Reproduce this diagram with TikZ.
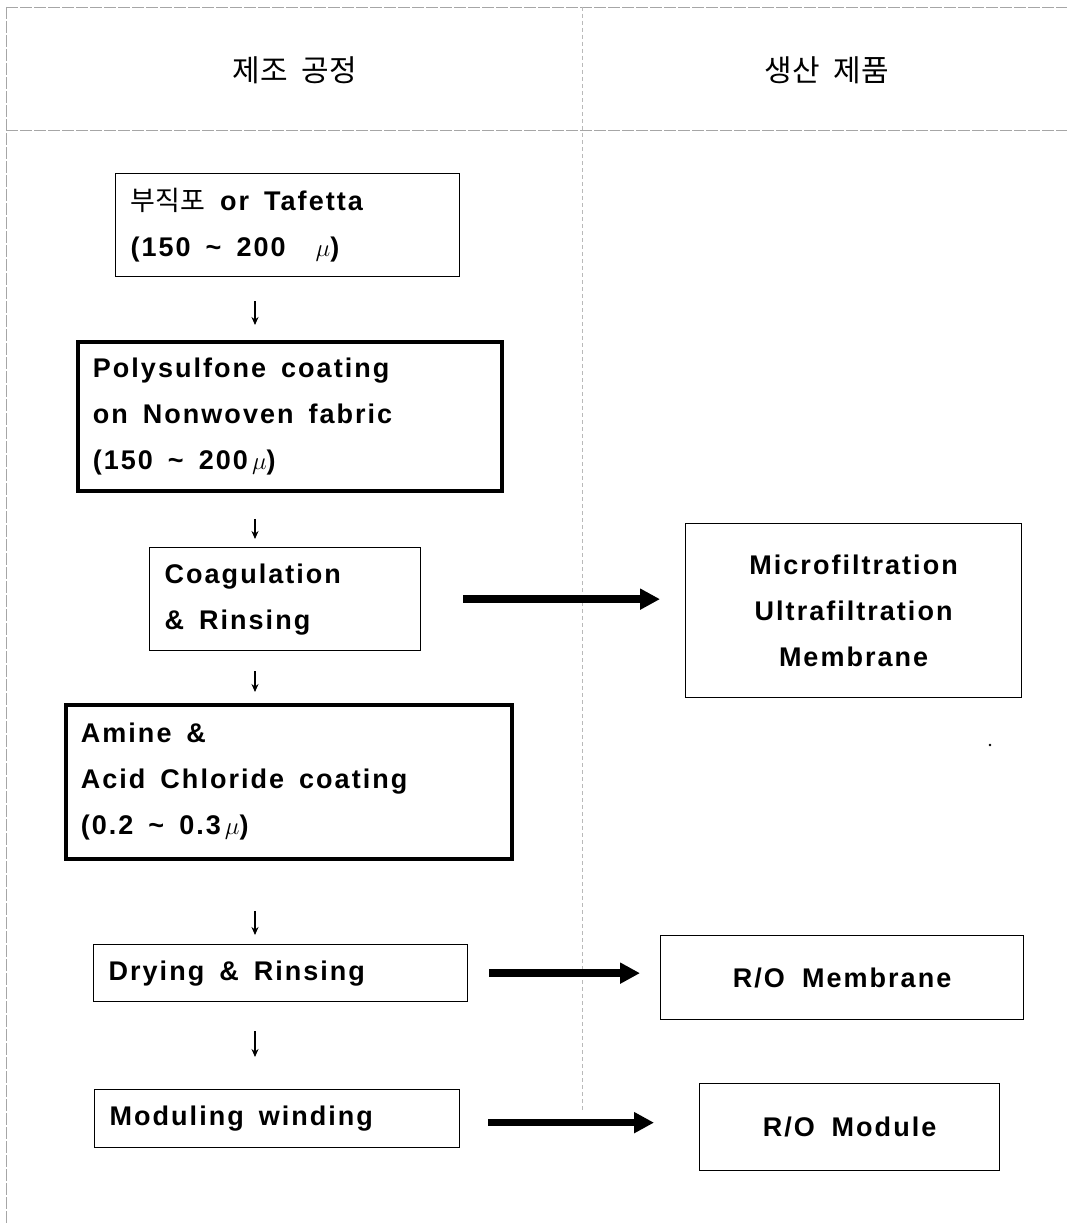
\documentclass[tikz,border=0pt]{standalone}
\usepackage{fontspec}
\setmainfont{Liberation Sans}
\newfontfamily\kr{Noto Sans CJK KR}
\newfontfamily\boxfont{Liberation Sans}[LetterSpace=7.5]
\newcommand{\widespace}{\spaceskip=15pt plus 2pt minus 2pt\relax}
\newcommand{\headspace}{\spaceskip=14pt\relax}
\usetikzlibrary{arrows.meta}
\tikzset{
  frameline/.style={draw=gray!70, line width=0.8pt, dash pattern=on 12pt off 2pt},
  divline/.style={draw=gray!55, line width=0.7pt, dash pattern=on 4pt off 3pt},
  basebox/.style={draw, anchor=north west, inner ysep=0pt, inner xsep=15pt,
    font=\boxfont\bfseries\fontsize{27}{46}\selectfont,
    execute at begin node=\widespace},
  thinbox/.style={basebox, line width=1.3pt, align=left},
  thickbox/.style={basebox, line width=3.8pt, align=left},
  prodbox/.style={basebox, line width=1.2pt, align=center},
  head/.style={font=\kr\fontsize{30}{36}\selectfont, execute at begin node=\headspace},
  downarrow/.style={draw, line width=1.1pt, -{Stealth[length=8pt,width=7pt]}},
  bigarrow/.style={draw, line width=7.5pt, -{Triangle[length=20pt,width=20pt]}},
}
\begin{document}
\begin{tikzpicture}[x=1pt,y=-1pt]
\path[use as bounding box, fill=white] (0,0) rectangle (1067,1223);

% frame
\coordinate (ftl) at (6,7);
\coordinate (ftr) at (1067,7);
\coordinate (fbl) at (6,1223);
\coordinate (hl) at (6,130);
\coordinate (hr) at (1067,130);
\coordinate (dt) at (582,7);
\coordinate (db) at (582,1110);
\path[frameline] (ftl) -- (ftr);
\path[frameline] (ftl) -- (fbl);
\path[frameline] (hl) -- (hr);
\path[divline] (dt) -- (db);

% headers
\node[head] (h1) at (295,70) {제조 공정};
\node[head] (h2) at (827,70) {생산 제품};

% process boxes
\node[thinbox, text width=314pt, minimum height=103pt] (b1) at (115,173)
  {{\kr\mdseries\fontsize{27}{46}\selectfont 부직포} or Tafetta\\(150 \textasciitilde{} 200 \ $\mu$)};
\node[thickbox, text width=394pt, minimum height=149pt] (b2) at (76,340)
  {Polysulfone coating\\on Nonwoven fabric\\(150 \textasciitilde{} 200$\,\mu$)};
\node[thinbox, text width=241pt, minimum height=103pt] (b3) at (149,547)
  {Coagulation\\\& Rinsing};
\node[thickbox, text width=416pt, minimum height=154pt] (b4) at (64,703)
  {Amine \&\\Acid Chloride coating\\(0.2 \textasciitilde{} 0.3$\,\mu$)};
\node[thinbox, text width=344pt, minimum height=57pt] (b5) at (93,944)
  {Drying \& Rinsing};
\node[thinbox, text width=335pt, minimum height=58pt] (b6) at (94,1089)
  {Moduling winding};

% product boxes
\node[prodbox, text width=306pt, minimum height=174pt] (p1) at (685,523)
  {Microfiltration\\Ultrafiltration\\Membrane};
\node[prodbox, text width=333pt, minimum height=84pt] (p2) at (660,935)
  {R/O Membrane};
\node[prodbox, text width=270pt, minimum height=87pt] (p3) at (699,1083)
  {R/O Module};

% speck
\fill (990,745) circle (1.4pt);

% down arrows
\coordinate (ax) at (255,0);
\draw[downarrow, shorten <=24pt, shorten >=15pt] (b1.south -| ax) -- (b2.north -| ax);
\draw[downarrow, shorten <=26pt, shorten >=8pt] (b2.south -| ax) -- (b3.north -| ax);
\draw[downarrow, shorten <=20pt, shorten >=11pt] (b3.south -| ax) -- (b4.north -| ax);
\draw[downarrow, shorten <=50pt, shorten >=9pt] (b4.south -| ax) -- (b5.north -| ax);
\draw[downarrow, shorten <=29pt, shorten >=32pt] (b5.south -| ax) -- (b6.north -| ax);

% product arrows
\draw[bigarrow, shorten <=42pt, shorten >=25pt] (b3.east) -- (b3.east -| p1.west);
\draw[bigarrow, shorten <=21pt, shorten >=20pt] (b5.east) -- (b5.east -| p2.west);
\draw[bigarrow, shorten <=28pt, shorten >=45pt] ([yshift=-4pt]b6.east) -- ([yshift=-4pt]b6.east -| p3.west);
\end{tikzpicture}
\end{document}
